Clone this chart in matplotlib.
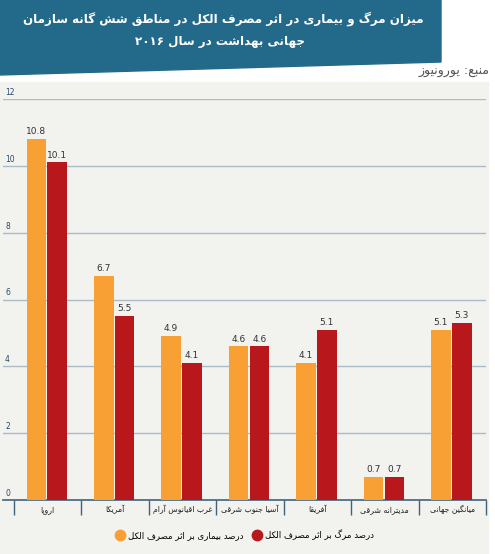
import re
import matplotlib
matplotlib.use('Agg')
import matplotlib.pyplot as plt
import numpy as np
from matplotlib.patches import Polygon, Rectangle
from matplotlib.lines import Line2D

# ---------------------------------------------------------------------
# data (logical Persian text, left to right as drawn)

categories   = ['اروپا', 'آمریکا', 'غرب اقیانوس آرام', 'آسیا جنوب شرقی',
                'آفریقا', 'مدیترانه شرقی', 'میانگین جهانی']
disease_pct  = [10.8, 6.7, 4.9, 4.6, 4.1, 0.7, 5.1]
death_pct    = [10.1, 5.5, 4.1, 4.6, 5.1, 0.7, 5.3]
yticks       = [0, 2, 4, 6, 8, 10, 12]

title_1      = 'میزان مرگ و بیماری در اثر مصرف الکل در مناطق شش گانه سازمان'
title_2      = 'جهانی بهداشت در سال ۲۰۱۶'
source_txt   = 'منبع: یورونیوز'
lbl_disease  = 'درصد بیماری بر اثر مصرف الکل'
lbl_death    = 'درصد مرگ بر اثر مصرف الکل'


# ---------------------------------------------------------------------
# tiny arabic/persian shaper, matplotlib has no shaping or bidi

FORMS = {
    'ا': (0xFE8D, 0xFE8E, None, None),
    'آ': (0xFE81, 0xFE82, None, None),
    'ب': (0xFE8F, 0xFE90, 0xFE91, 0xFE92),
    'پ': (0xFB56, 0xFB57, 0xFB58, 0xFB59),
    'ت': (0xFE95, 0xFE96, 0xFE97, 0xFE98),
    'ث': (0xFE99, 0xFE9A, 0xFE9B, 0xFE9C),
    'ج': (0xFE9D, 0xFE9E, 0xFE9F, 0xFEA0),
    'چ': (0xFB7A, 0xFB7B, 0xFB7C, 0xFB7D),
    'ح': (0xFEA1, 0xFEA2, 0xFEA3, 0xFEA4),
    'خ': (0xFEA5, 0xFEA6, 0xFEA7, 0xFEA8),
    'د': (0xFEA9, 0xFEAA, None, None),
    'ذ': (0xFEAB, 0xFEAC, None, None),
    'ر': (0xFEAD, 0xFEAE, None, None),
    'ز': (0xFEAF, 0xFEB0, None, None),
    'ژ': (0xFB8A, 0xFB8B, None, None),
    'س': (0xFEB1, 0xFEB2, 0xFEB3, 0xFEB4),
    'ش': (0xFEB5, 0xFEB6, 0xFEB7, 0xFEB8),
    'ص': (0xFEB9, 0xFEBA, 0xFEBB, 0xFEBC),
    'ض': (0xFEBD, 0xFEBE, 0xFEBF, 0xFEC0),
    'ط': (0xFEC1, 0xFEC2, 0xFEC3, 0xFEC4),
    'ظ': (0xFEC5, 0xFEC6, 0xFEC7, 0xFEC8),
    'ع': (0xFEC9, 0xFECA, 0xFECB, 0xFECC),
    'غ': (0xFECD, 0xFECE, 0xFECF, 0xFED0),
    'ف': (0xFED1, 0xFED2, 0xFED3, 0xFED4),
    'ق': (0xFED5, 0xFED6, 0xFED7, 0xFED8),
    'ک': (0xFB8E, 0xFB8F, 0xFB90, 0xFB91),
    'ك': (0xFED9, 0xFEDA, 0xFEDB, 0xFEDC),
    'گ': (0xFB92, 0xFB93, 0xFB94, 0xFB95),
    'ل': (0xFEDD, 0xFEDE, 0xFEDF, 0xFEE0),
    'م': (0xFEE1, 0xFEE2, 0xFEE3, 0xFEE4),
    'ن': (0xFEE5, 0xFEE6, 0xFEE7, 0xFEE8),
    'ه': (0xFEE9, 0xFEEA, 0xFEEB, 0xFEEC),
    'و': (0xFEED, 0xFEEE, None, None),
    'ی': (0xFBFC, 0xFBFD, 0xFBFE, 0xFBFF),
    'ي': (0xFEF1, 0xFEF2, 0xFEF3, 0xFEF4),
}


def fa(text):
    out = []
    for i, ch in enumerate(text):
        if ch not in FORMS:
            out.append(ch)
            continue
        prev = text[i-1] if i > 0 else ''
        nxt  = text[i+1] if i+1 < len(text) else ''
        iso, fin, ini, med = FORMS[ch]
        jp = prev in FORMS and FORMS[prev][2] is not None
        jn = nxt in FORMS and ini is not None
        if jp and jn:
            c = med
        elif jp:
            c = fin
        elif jn:
            c = ini
        else:
            c = iso
        out.append(chr(c))
    s = ''.join(out)[::-1]
    return re.sub(r'[0-9۰-۹]+', lambda m: m.group(0)[::-1], s)


# ---------------------------------------------------------------------
# figure

W, H = 495, 554
fx = lambda px: px / W
fy = lambda py: 1 - py / H

plt.rcParams['font.family'] = ['DejaVu Sans']

fig = plt.figure(figsize=(W/100, H/100), dpi=100)
fig.patch.set_facecolor('white')

# gray panel and slanted title banner
fig.add_artist(Rectangle((0, fy(H)), fx(488), fy(82) - fy(H),
                         transform=fig.transFigure, color='#f2f2ef', zorder=0))
fig.add_artist(Polygon([(0, 1), (fx(441), 1), (fx(441), fy(62)), (0, fy(75))],
                       closed=True, transform=fig.transFigure,
                       color='#236a8a', zorder=1))

fig.text(fx(223), fy(19), fa(title_1), color='white', fontsize=8.6,
         fontweight='bold', ha='center', va='center')
fig.text(fx(220), fy(41), fa(title_2), color='white', fontsize=8.6,
         fontweight='bold', ha='center', va='center')
fig.text(fx(490), fy(72), fa(source_txt), color='#555555', fontsize=9,
         ha='right', va='center')

ax = fig.add_axes([fx(3), fy(500), fx(486) - fx(3), fy(99) - fy(500)])
ax.set_facecolor('none')
ax.set_xlim(-0.664, 6.5)
ax.set_ylim(0, 12)

x = np.arange(len(categories))
b1 = ax.bar(x - 0.17, disease_pct, width=0.29, color='#f9a035', zorder=3,
            label=fa(lbl_disease))
b2 = ax.bar(x + 0.14, death_pct, width=0.29, color='#b8181c', zorder=3,
            label=fa(lbl_death))
ax.bar_label(b1, fmt='%.1f', padding=2, fontsize=6.5, color='#333333')
ax.bar_label(b2, fmt='%.1f', padding=2, fontsize=6.5, color='#333333')

# grid lines with labels sitting on top, inside the plot
for v in yticks:
    if v > 0:
        ax.axhline(v, color='#a9bcc7', lw=1, zorder=1)
    ax.annotate(str(v), xy=(0, v), xycoords=('axes fraction', 'data'),
                xytext=(1.5, 1.5), textcoords='offset points',
                fontsize=5.5, color='#2a4a6a', ha='left', va='bottom')

for s in ['top', 'left', 'right']:
    ax.spines[s].set_visible(False)
ax.spines['bottom'].set_color('#40627c')
ax.spines['bottom'].set_linewidth(1.2)

ax.set_yticks([])
ax.set_xticks(x)
ax.set_xticklabels([fa(c) for c in categories], fontsize=5.6, color='#222222')
ax.set_xticks(np.arange(-0.5, len(categories)), minor=True)
ax.tick_params(axis='x', which='major', length=0, pad=3.5)
ax.tick_params(axis='x', which='minor', length=11, width=1, color='#40627c')

handles = [Line2D([], [], ls='none', marker='o', markersize=7.5,
                  color='#f9a035'),
           Line2D([], [], ls='none', marker='o', markersize=7.5,
                  color='#b8181c')]
fig.legend(handles, [fa(lbl_disease), fa(lbl_death)], ncol=2,
           loc='center', bbox_to_anchor=(fx(245), fy(535)), frameon=False,
           fontsize=6.2, handletextpad=0.5, columnspacing=1.0,
           handlelength=1.0)

fig.savefig('out.png', dpi=100)
